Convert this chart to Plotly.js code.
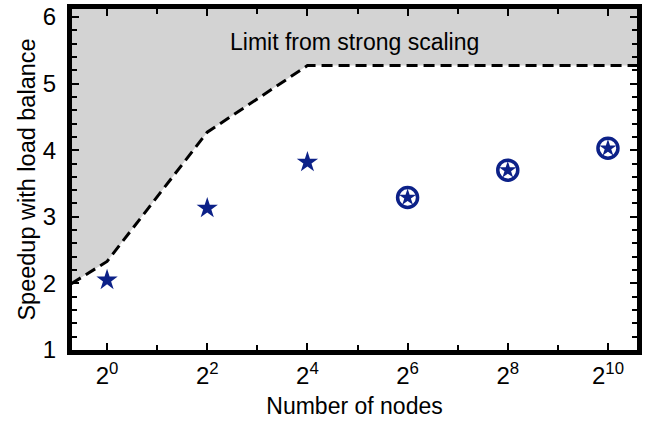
<!DOCTYPE html>
<html><head><meta charset="utf-8">
<script src="https://cdn.plot.ly/plotly-3.0.1.min.js"></script>
<style>html,body{margin:0;padding:0;background:#fff}#plot{width:646px;height:423px}</style>
</head><body><div id="plot"></div>
<script>
// Data
const nodesSingle = [1, 4, 16];
const speedupSingle = [2.05, 3.13, 3.82];
const nodesCircled = [64, 256, 1024];
const speedupCircled = [3.29, 3.70, 4.03];
const limitNodes = [0.5, 1, 4, 16, 2048];
const limitSpeedup = [1.86, 2.33, 4.27, 5.27, 5.27];
const tickNodes = [1, 4, 16, 64, 256, 1024];
const tickLabels = ['2<sup>0</sup>','2<sup>2</sup>','2<sup>4</sup>','2<sup>6</sup>','2<sup>8</sup>','2<sup>10</sup>'];
const minorNodes = [2, 8, 32, 128, 512];
const yTicks = [1, 2, 3, 4, 5, 6];
const annotationText = 'Limit from strong scaling';

const navy = '#0c2188';
const font = 'Liberation Sans, Arial, sans-serif';
const lg2 = Math.log10(2);

const traces = [
  {x: limitNodes, y: limitNodes.map(() => 8), mode: 'lines', line: {width: 0}, hoverinfo: 'skip', showlegend: false},
  {x: limitNodes, y: limitSpeedup, mode: 'lines', fill: 'tonexty', fillcolor: '#d3d3d3',
   line: {color: '#000', width: 3, dash: '11px,6px'}, showlegend: false},
  {x: nodesSingle, y: speedupSingle, mode: 'markers', marker: {symbol: 'star', size: 16, color: navy}, showlegend: false},
  {x: nodesCircled, y: speedupCircled, mode: 'markers', marker: {symbol: 'circle-open', size: 20, color: navy, line: {width: 3.5, color: navy}}, showlegend: false},
  {x: nodesCircled, y: speedupCircled, mode: 'markers', marker: {symbol: 'star', size: 13, color: navy}, showlegend: false}
];

const layout = {
  width: 646, height: 423,
  margin: {l: 72, r: 9, t: 9, b: 73},
  paper_bgcolor: '#fff', plot_bgcolor: '#fff',
  font: {family: font, size: 23, color: '#000'},
  showlegend: false,
  xaxis: {
    type: 'log', range: [-0.7 * lg2, 10.58 * lg2],
    tickmode: 'array', tickvals: tickNodes, ticktext: tickLabels,
    ticks: 'inside', ticklen: 7, tickwidth: 2, tickcolor: '#000',
    minor: {tickmode: 'array', tickvals: minorNodes, ticks: 'inside', ticklen: 5, tickwidth: 2, tickcolor: '#000'},
    showline: true, linewidth: 5, linecolor: '#000', mirror: 'ticks',
    showgrid: false, zeroline: false,
    tickfont: {family: font, size: 24, color: '#000'},
    title: {text: 'Number of nodes', font: {family: font, size: 23, color: '#000'}, standoff: 12}
  },
  yaxis: {
    range: [1, 6.12],
    tickmode: 'array', tickvals: yTicks,
    ticks: 'inside', ticklen: 7, tickwidth: 2, tickcolor: '#000',
    minor: {dtick: 0.2, ticks: 'inside', ticklen: 5, tickwidth: 2, tickcolor: '#000'},
    showline: true, linewidth: 5, linecolor: '#000', mirror: 'ticks',
    showgrid: false, zeroline: false,
    ticklabelstandoff: 6,
    tickfont: {family: font, size: 24, color: '#000'},
    title: {text: 'Speedup with load balance', font: {family: font, size: 23.5, color: '#000'}, standoff: 2}
  },
  annotations: [{
    x: 4.94 * lg2, y: 5.63, xref: 'x', yref: 'y', text: annotationText, showarrow: false,
    font: {family: font, size: 23, color: '#000'}
  }]
};

Plotly.newPlot('plot', traces, layout, {displayModeBar: false, staticPlot: true});
</script>
</body></html>
